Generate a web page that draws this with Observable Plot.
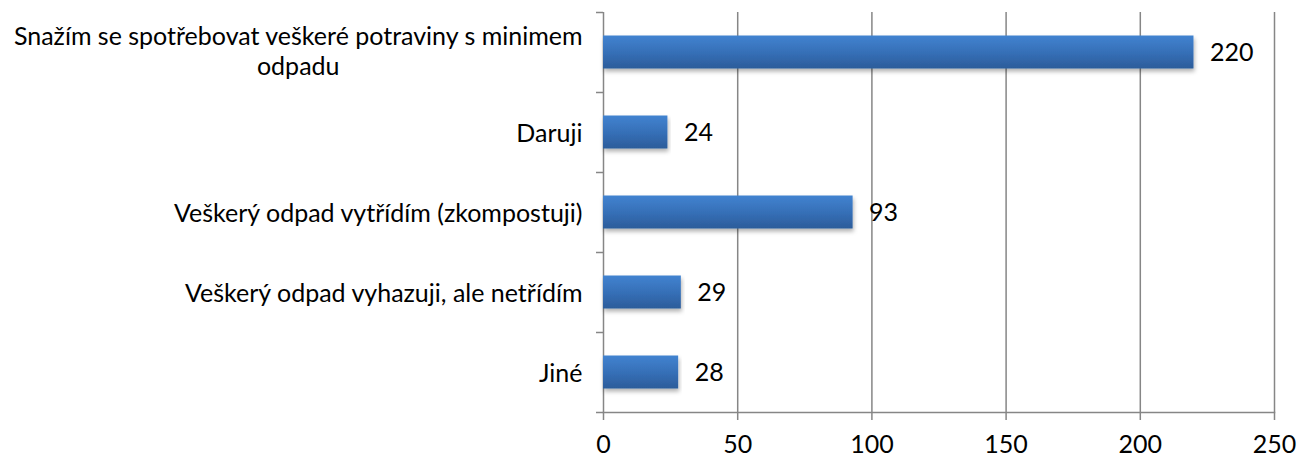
<!DOCTYPE html>
<html>
<head>
<meta charset="utf-8">
<script src="https://cdn.jsdelivr.net/npm/d3@7"></script>
<script src="https://cdn.jsdelivr.net/npm/@observablehq/plot@0.6"></script>
<style>
  html, body { margin: 0; padding: 0; background: white; }
</style>
</head>
<body>
<div id="chart"></div>
<script>
const categories = [
  "Snažím se spotřebovat veškeré potraviny s minimem odpadu",
  "Daruji",
  "Veškerý odpad vytřídím (zkompostuji)",
  "Veškerý odpad vyhazuji, ale netřídím",
  "Jiné"
];
const labelLines = [
  "Snažím se spotřebovat veškeré potraviny s minimem\nodpadu",
  "Daruji",
  "Veškerý odpad vytřídím (zkompostuji)",
  "Veškerý odpad vyhazuji, ale netřídím",
  "Jiné"
];
const values = [220, 24, 93, 29, 28];
const xTicks = [0, 50, 100, 150, 200, 250];

const data = categories.map((c, i) => ({category: c, label: labelLines[i], value: values[i]}));
const gray = "#868686";
const fs = 25;

const chart = Plot.plot({
  width: 1298,
  height: 457,
  marginLeft: 603,
  marginRight: 24,
  marginTop: 12,
  marginBottom: 45,
  style: {fontFamily: "Lato, 'Open Sans', sans-serif", fontSize: fs + "px", color: "black", background: "white"},
  x: {domain: [0, 250]},
  y: {domain: categories, padding: 0, axis: null},
  marks: [
    Plot.gridX(xTicks.slice(1), {stroke: gray, strokeOpacity: 1, strokeWidth: 1.5}),
    Plot.frame({anchor: "bottom", stroke: gray, strokeWidth: 1.5}),
    Plot.ruleX([0], {stroke: gray, strokeWidth: 1.5}),
    Plot.ruleY(categories, {y: d => d, dy: -40, x1: 0, x2: 0, insetLeft: -7, stroke: gray, strokeWidth: 1.5}),
    Plot.ruleY(categories.slice(-1), {y: d => d, dy: 40, x1: 0, x2: 0, insetLeft: -7, stroke: gray, strokeWidth: 1.5}),
    Plot.axisX({ticks: xTicks, tickSize: 8, tickPadding: 15, stroke: gray, strokeWidth: 1.5, fill: "black", fontSize: fs, label: null}),
    Plot.barX(data, {x: "value", y: "category", fill: "url(#barGrad)", insetTop: 23.5, insetBottom: 23.5}),
    Plot.text(data, {x: "value", y: "category", text: d => String(d.value), dx: 16, textAnchor: "start", fill: "black", fontSize: fs}),
    Plot.text(data, {x: 0, y: "category", text: "label", dx: -21, textAnchor: "end", fill: "black", fontSize: fs, lineHeight: 1.2})
  ]
});

d3.select(chart).insert("defs", ":first-child").html(`
  <linearGradient id="barGrad" x1="0" y1="0" x2="0" y2="1">
    <stop offset="0%" stop-color="#4283d0"/>
    <stop offset="50%" stop-color="#3670b8"/>
    <stop offset="100%" stop-color="#2c5c9a"/>
  </linearGradient>
  <filter id="shadow" x="-5%" y="-20%" width="110%" height="160%">
    <feDropShadow dx="1" dy="3" stdDeviation="2" flood-color="#000" flood-opacity="0.3"/>
  </filter>
`);
d3.select(chart).selectAll("rect").filter(function() { return this.getAttribute("fill") === "url(#barGrad)" || (this.parentNode && this.parentNode.getAttribute("fill") === "url(#barGrad)"); }).attr("filter", "url(#shadow)");

document.getElementById("chart").appendChild(chart);

// center the short line of a wrapped category label under the long one
d3.select(chart).selectAll("text").each(function() {
  const tspans = this.querySelectorAll("tspan");
  if (tspans.length > 1) {
    const widths = Array.from(tspans, t => t.getComputedTextLength());
    const W = Math.max(...widths);
    tspans.forEach((t, i) => {
      t.setAttribute("x", -(W - widths[i]) / 2);
    });
    this.setAttribute("dy", "-0.1em");
  }
});
</script>
</body>
</html>
